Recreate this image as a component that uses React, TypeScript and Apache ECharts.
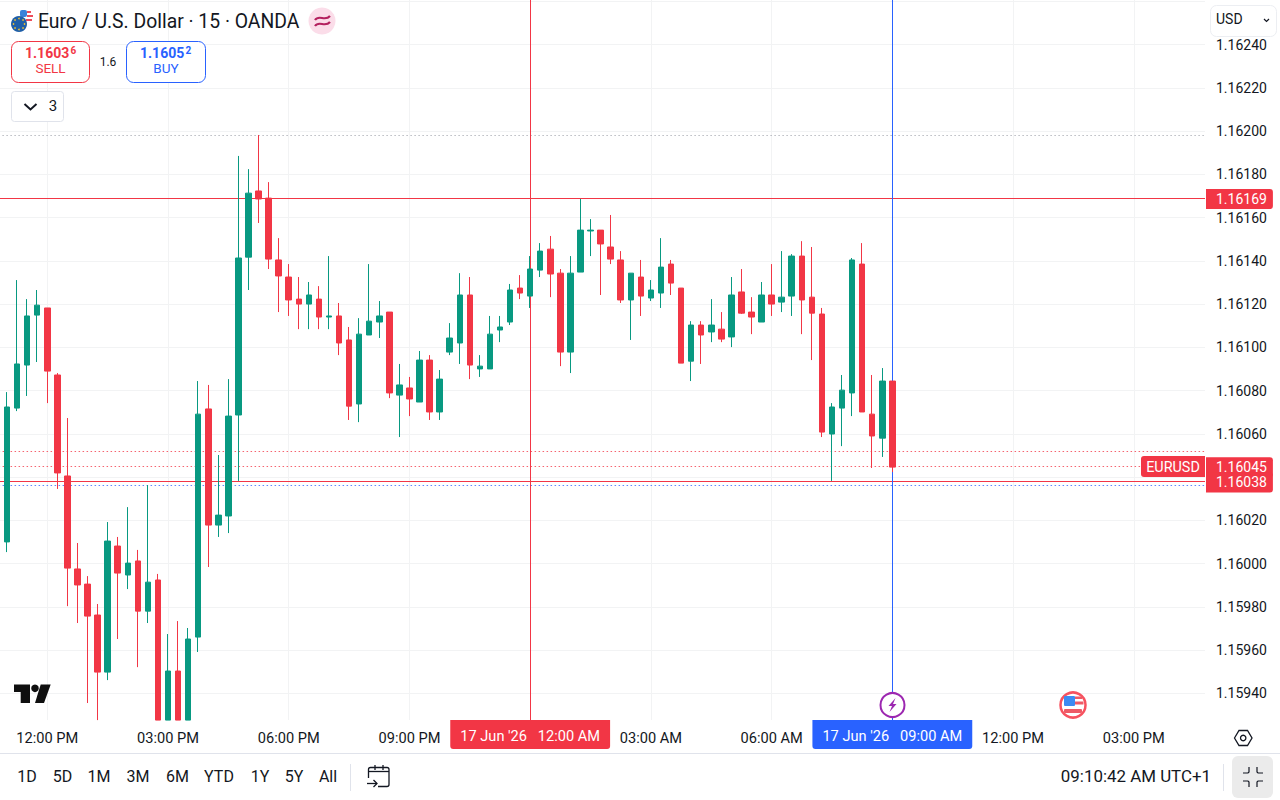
import React, { useEffect, useRef } from "react";
import * as echarts from "echarts";

// x position = number of 15-minute candles from the 12:00 PM bar
const firstBarOffset = -4;
// Bars that run past the bottom of the pane are read only as far as the pane shows them (1.159276).
const opens = [1.1601,1.160719,1.160918,1.161149,1.161182,1.160872,1.160405,1.159975,1.159905,1.159762,1.159498,1.160081,1.159947,1.160012,1.15978,1.159924,1.159276,1.159503,1.159276,1.15966,1.160715,1.160178,1.16022,1.160687,1.161417,1.161723,1.16169,1.161404,1.161325,1.161223,1.1612,1.161223,1.16114,1.161145,1.161034,1.160738,1.161057,1.161117,1.161163,1.160779,1.160812,1.160747,1.160941,1.160701,1.160978,1.16102,1.161242,1.1609,1.1609,1.16108,1.161117,1.161274,1.161237,1.161357,1.161454,1.161343,1.160978,1.161348,1.161538,1.161542,1.161464,1.161404,1.161219,1.161325,1.161228,1.161251,1.161385,1.161274,1.160936,1.161103,1.161071,1.161084,1.161048,1.161256,1.161163,1.161117,1.161242,1.161209,1.161237,1.161422,1.161232,1.161154,1.160599,1.160719,1.160789,1.161385,1.160691,1.16058,1.160844];
const closes = [1.160724,1.160923,1.161145,1.161195,1.16089,1.160419,1.159979,1.159901,1.159757,1.159498,1.160104,1.159956,1.160002,1.15978,1.159914,1.159276,1.159503,1.159276,1.159651,1.160691,1.160178,1.160224,1.160682,1.161413,1.161713,1.161686,1.161408,1.16133,1.161219,1.1612,1.161242,1.16114,1.161145,1.16102,1.160728,1.161061,1.161121,1.161145,1.160789,1.160826,1.160761,1.160941,1.160701,1.160853,1.161043,1.161242,1.160918,1.160913,1.161061,1.161094,1.161265,1.161251,1.161362,1.161445,1.161339,1.160978,1.161343,1.161542,1.161542,1.161478,1.161408,1.161219,1.161343,1.161237,1.161265,1.161371,1.161297,1.160927,1.161103,1.161057,1.161103,1.161038,1.161242,1.161158,1.16114,1.161242,1.1612,1.161232,1.161422,1.161219,1.161158,1.160608,1.160724,1.160802,1.161404,1.160701,1.16059,1.160844,1.160446];
const lows = [1.160053,1.160705,1.160775,1.160932,1.160742,1.160345,1.159803,1.159725,1.159355,1.159276,1.159461,1.159651,1.159882,1.159521,1.159725,1.159276,1.159276,1.159276,1.159276,1.159591,1.159984,1.160123,1.160141,1.160382,1.161265,1.161575,1.161362,1.161163,1.161145,1.161084,1.161084,1.161084,1.161084,1.160964,1.160664,1.160654,1.161057,1.161043,1.160765,1.160585,1.160682,1.160747,1.160664,1.160664,1.160964,1.160923,1.160853,1.160863,1.1609,1.161024,1.161103,1.161223,1.161182,1.161325,1.161232,1.160913,1.160881,1.161348,1.161422,1.161242,1.161385,1.161205,1.161034,1.161145,1.161214,1.161182,1.161242,1.160927,1.160844,1.160923,1.161024,1.161024,1.161001,1.161154,1.161061,1.161117,1.161145,1.161163,1.161145,1.161061,1.160941,1.160585,1.160382,1.160543,1.160682,1.160701,1.160442,1.160493,1.160423];
const highs = [1.160793,1.161311,1.161223,1.161265,1.161182,1.160881,1.160673,1.160095,1.159942,1.159813,1.160192,1.160123,1.160261,1.160063,1.160363,1.159952,1.159674,1.159734,1.159702,1.160844,1.160826,1.160502,1.160853,1.161885,1.161824,1.161982,1.161764,1.161505,1.161385,1.161325,1.161302,1.161283,1.161422,1.161205,1.161094,1.161135,1.161385,1.161214,1.161163,1.160923,1.160863,1.160983,1.160964,1.160895,1.161112,1.161343,1.161325,1.160964,1.161145,1.161145,1.161293,1.161334,1.161422,1.161482,1.161515,1.161362,1.161422,1.161686,1.161593,1.161542,1.161612,1.161445,1.161343,1.161404,1.161311,1.161505,1.161404,1.161274,1.161121,1.161121,1.161223,1.161163,1.161325,1.161362,1.161232,1.161302,1.161385,1.161445,1.161431,1.161491,1.161464,1.161182,1.160742,1.160872,1.161413,1.161482,1.160872,1.160904,1.160844];

const timeLabels: Record<number, string> = {
  0: "12:00 PM", 12: "03:00 PM", 24: "06:00 PM", 36: "09:00 PM",
  60: "03:00 AM", 72: "06:00 AM", 96: "12:00 PM", 108: "03:00 PM",
};
const hiddenPriceLabel = "1.16040";
const periods = ["1D", "5D", "1M", "3M", "6M", "YTD", "1Y", "5Y", "All"];
const periodCenters = [27, 62.5, 99, 138, 177.5, 219, 260, 294, 328];

const RED = "#f23645";
const BLUE = "#2962ff";
const GREEN = "#089981";
const INK = "#131722";
const GRID = "#f2f3f4";
const FONT = "Roboto";
const PALE_RED = "#f56470";
const PALE_BLUE = "#5e88ff";

const selectedLow = 1.16169;
const midLine = 1.16052;
const lastPrice = 1.16045;
const openLine = 1.16038;
const sellLine = 1.16036;
const topDotted = 1.16198;
const startX = 48;
const nowX = 84;

const txt = (x: number, y: number, text: string, fontSize: number, fill: string, extra: any = {}) => ({
  type: "text", x, y, z: 60,
  style: { text, fontSize, fill, fontFamily: FONT, textAlign: "left", textVerticalAlign: "middle", ...extra },
});
const rect = (x: number, y: number, width: number, height: number, style: any, r: any = 0, z = 49) => ({
  type: "rect", z, shape: { x, y, width, height, r }, style,
});
const line = (x1: number, y1: number, x2: number, y2: number, stroke: string, lineWidth = 1) => ({
  type: "line", z: 49, shape: { x1, y1, x2, y2 }, style: { stroke, lineWidth },
});
const poly = (points: number[][], style: any) => ({ type: "polygon", z: 50, shape: { points }, style });
const pline = (points: number[][], stroke: string, lineWidth = 1.5) => ({
  type: "polyline", z: 50, shape: { points }, style: { stroke, lineWidth, fill: "none" },
});
const circ = (cx: number, cy: number, r: number, style: any, z = 50) => ({ type: "circle", z, shape: { cx, cy, r }, style });

function chrome(): any[] {
  const euStars: any[] = [[19, 18.5], [23, 20], [24.5, 24], [23, 28], [19, 29.5], [15, 28], [13.5, 24], [15, 20]].map(
    ([x, y]) => circ(x, y, 0.8, { fill: "#f2c230" }, 54),
  );
  return [
    // header
    circ(26, 17, 7, { fill: "#ffffff" }, 50),
    rect(20, 10, 7, 7, { fill: "#3b82d8" }, 2, 51),
    rect(27, 11, 4, 2, { fill: "#ee4d5a" }, 0, 51),
    rect(27, 15, 6, 2, { fill: "#ee4d5a" }, 0, 51),
    rect(26, 19, 6, 2, { fill: "#ee4d5a" }, 0, 51),
    circ(19, 24, 8, { fill: "#1f5fa8" }, 53),
    ...euStars,
    txt(38, 21, "Euro / U.S. Dollar \u00b7 15 \u00b7 OANDA", 19.35, INK),
    circ(322, 21, 13.5, { fill: "#fbdde9" }),
    {
      type: "bezierCurve", z: 51,
      shape: { x1: 315, y1: 20, cpx1: 319, cpy1: 14, cpx2: 325, cpy2: 22, x2: 330, y2: 16 },
      style: { stroke: "#b4215f", lineWidth: 2.2, fill: "none" },
    },
    {
      type: "bezierCurve", z: 51,
      shape: { x1: 315, y1: 26, cpx1: 319, cpy1: 20, cpx2: 325, cpy2: 28, x2: 330, y2: 22 },
      style: { stroke: "#b4215f", lineWidth: 2.2, fill: "none" },
    },
    // order buttons
    rect(11.5, 41.5, 78, 41, { fill: "#ffffff", stroke: RED, lineWidth: 1 }, 7),
    txt(25, 52.5, "1.1603", 14, RED, { fontWeight: 700 }),
    txt(70.5, 50.5, "6", 10, RED, { fontWeight: 700 }),
    txt(50.5, 68, "SELL", 13.5, RED, { textAlign: "center" }),
    txt(108, 62, "1.6", 12, INK, { textAlign: "center" }),
    rect(126.5, 41.5, 79, 41, { fill: "#ffffff", stroke: BLUE, lineWidth: 1 }, 7),
    txt(140, 52.5, "1.1605", 14, BLUE, { fontWeight: 700 }),
    txt(185.5, 50.5, "2", 10, BLUE, { fontWeight: 700 }),
    txt(166, 68, "BUY", 13.5, BLUE, { textAlign: "center" }),
    rect(11.5, 91.5, 52, 30, { fill: "#ffffff", stroke: "#e0e3eb", lineWidth: 1 }, 3),
    pline([[24.5, 104], [30.5, 109.5], [36.5, 104]], INK, 2),
    txt(53, 105.5, "3", 15, INK, { textAlign: "center" }),
    // currency selector
    rect(1210.5, 5.5, 66, 31, { fill: "#ffffff", stroke: "#eceef2", lineWidth: 1 }, 6),
    txt(1216, 19, "USD", 14, INK),
    pline([[1264, 19], [1266.5, 21.5], [1269, 19]], INK, 1.2),
    // watermark logo
    poly([[14, 684.5], [30, 684.5], [30, 703], [20.7, 703], [20.7, 692], [14, 692]], { fill: "#0f0f0f" }),
    circ(35, 688.3, 3.8, { fill: "#0f0f0f" }),
    poly([[40.7, 684.5], [50.7, 684.5], [44, 703], [35, 703]], { fill: "#0f0f0f" }),
    // last price left tag
    rect(1141, 456, 64, 21, { fill: RED }, [3, 0, 0, 3]),
    txt(1173, 467.5, "EURUSD", 14.4, "#ffffff", { textAlign: "center" }),
    // event marks on the time scale
    circ(892.5, 705, 12, { fill: "#ffffff", stroke: "#9c27b0", lineWidth: 2 }),
    poly([[895.5, 698], [888.5, 706], [892, 706], [889.5, 712], [896.5, 704], [893, 704]], { fill: "#9c27b0" }),
    circ(1073, 705, 12.5, { fill: "#ffffff", stroke: "#f7525f", lineWidth: 2.5 }),
    rect(1064, 696, 11, 10, { fill: "#3d8bf2" }, 1, 51),
    rect(1075, 696.5, 7, 2.5, { fill: "#ee5a66" }, 0, 51),
    rect(1075, 701.5, 8.5, 3, { fill: "#ee5a66" }, 0, 51),
    rect(1064, 709, 18, 4, { fill: "#ee5a66" }, 1, 51),
    // settings glyph
    poly([[1234.5, 738], [1239, 730.5], [1247.5, 730.5], [1252, 738], [1247.5, 745.5], [1239, 745.5]], {
      fill: "none", stroke: INK, lineWidth: 1.3,
    }),
    circ(1243.2, 738, 2.7, { fill: "none", stroke: INK, lineWidth: 1.3 }),
    // bottom bar
    line(0, 753.5, 1280, 753.5, "#e0e3eb"),
    ...periods.map((p, i) => txt(periodCenters[i], 776.5, p, 16, INK, { textAlign: "center" })),
    line(350.5, 764, 350.5, 791, "#e0e3eb"),
    rect(368.5, 767.5, 20.5, 19, { fill: "none", stroke: INK, lineWidth: 1.3 }, 2, 47),
    line(368.5, 771.5, 389, 771.5, INK, 1.3),
    line(375, 765, 375, 770, INK, 1.3),
    line(383, 765, 383, 770, INK, 1.3),
    rect(365, 778, 13, 10, { fill: "#ffffff" }, 0, 48),
    line(367, 783.5, 377, 783.5, INK, 1.3),
    pline([[373.5, 780], [377, 783.5], [373.5, 787]], INK, 1.3),
    txt(1211, 775.5, "09:10:42 AM UTC+1", 16.9, INK, { textAlign: "right" }),
    line(1223.5, 764, 1223.5, 791, "#e0e3eb"),
    rect(1232, 756, 41, 42, { fill: "#ebebeb" }, 6),
    pline([[1243, 773], [1248, 773], [1249, 772], [1249, 767]], INK, 1.2),
    pline([[1263, 773], [1258, 773], [1257, 772], [1257, 767]], INK, 1.2),
    pline([[1243, 781], [1248, 781], [1249, 782], [1249, 787]], INK, 1.2),
    pline([[1263, 781], [1258, 781], [1257, 782], [1257, 787]], INK, 1.2),
  ];
}

const priceTag = (value: number, text: string) => ({
  yAxis: value,
  label: {
    show: true, position: "end", distance: 1, offset: [0, 1], formatter: text, color: "#ffffff", backgroundColor: RED,
    padding: [3, 6, 3, 10], lineHeight: 14, borderRadius: [0, 3, 3, 0], fontFamily: FONT, fontSize: 14,
  },
});
const timeTag = (value: number, text: string, bg: string, color: string) => ({
  xAxis: value,
  lineStyle: { color, width: 1, type: "solid" },
  label: {
    show: true, position: "start", distance: 0, formatter: text, color: "#ffffff", backgroundColor: bg,
    padding: [8, 10, 6, 10], lineHeight: 15, borderRadius: [0, 0, 3, 3], fontFamily: FONT, fontSize: 14.6,
  },
});

export default function App() {
  const ref = useRef<HTMLDivElement>(null);
  useEffect(() => {
    document.body.style.margin = "0";
    const chart = echarts.init(ref.current!, null, { renderer: "svg" });
    const candles = opens.map((o, i) => [i + firstBarOffset, o, closes[i], lows[i], highs[i]]);
    const dotted = [1.5, 2.5];
    chart.setOption({
      animation: false,
      backgroundColor: "#ffffff",
      textStyle: { fontFamily: FONT },
      grid: { left: -73.42, top: 0, width: 1278.42, height: 720, containLabel: false, outerBoundsMode: "none" },
      xAxis: {
        type: "value", min: -12, max: 115.08, interval: 12,
        axisLine: { show: false }, axisTick: { show: false },
        axisLabel: {
          show: true, margin: 10, color: INK, fontFamily: FONT, fontSize: 14.6, showMinLabel: false, showMaxLabel: false,
          hideOverlap: false, formatter: (v: number) => timeLabels[v] ?? "",
        },
        splitLine: { show: true, showMinLine: false, showMaxLine: false, lineStyle: { color: GRID, width: 1 } },
      },
      yAxis: {
        type: "value", position: "right", min: 1.1592765, max: 1.1626062, scale: true,
        splitNumber: 17, minInterval: 0.0002, maxInterval: 0.0002,
        axisLine: { show: false }, axisTick: { show: false },
        axisLabel: {
          show: true, margin: 11, color: INK, fontFamily: FONT, fontSize: 14, showMinLabel: false, showMaxLabel: false,
          formatter: (v: number) => (v > 1.1625 || v.toFixed(5) === hiddenPriceLabel ? "" : v.toFixed(5)),
        },
        splitLine: { show: true, showMinLine: false, showMaxLine: false, lineStyle: { color: GRID, width: 1 } },
      },
      series: [
        {
          type: "candlestick", z: 2, barWidth: 6, data: candles,
          itemStyle: { color: GREEN, color0: RED, borderColor: GREEN, borderColor0: RED, borderWidth: 1 },
          markLine: {
            silent: true, symbol: "none", z: 1, animation: false, precision: 6,
            lineStyle: { color: RED, width: 1, type: "solid" },
            label: { show: false },
            emphasis: { disabled: true },
            data: [
              { yAxis: topDotted, lineStyle: { color: "#9598a1", type: [1, 3] }, label: { show: false } },
              { yAxis: midLine, lineStyle: { color: PALE_RED, type: dotted }, label: { show: false } },
              { yAxis: sellLine, lineStyle: { color: PALE_BLUE, type: dotted }, label: { show: false } },
              { ...priceTag(lastPrice, "1.16045"), lineStyle: { color: PALE_RED, type: dotted } },
              { ...priceTag(openLine, "1.16038"), lineStyle: { color: RED, type: "solid" } },
              { ...priceTag(selectedLow, "1.16169"), lineStyle: { color: RED, type: "solid" } },
              timeTag(startX, "17 Jun '26   12:00 AM", RED, RED),
              timeTag(nowX, "17 Jun '26   09:00 AM", BLUE, BLUE),
            ],
          },
        },
      ],
      graphic: { elements: chrome() },
    });
    return () => chart.dispose();
  }, []);
  return <div ref={ref} style={{ position: "absolute", left: 0, top: 0, width: 1280, height: 800 }} />;
}
